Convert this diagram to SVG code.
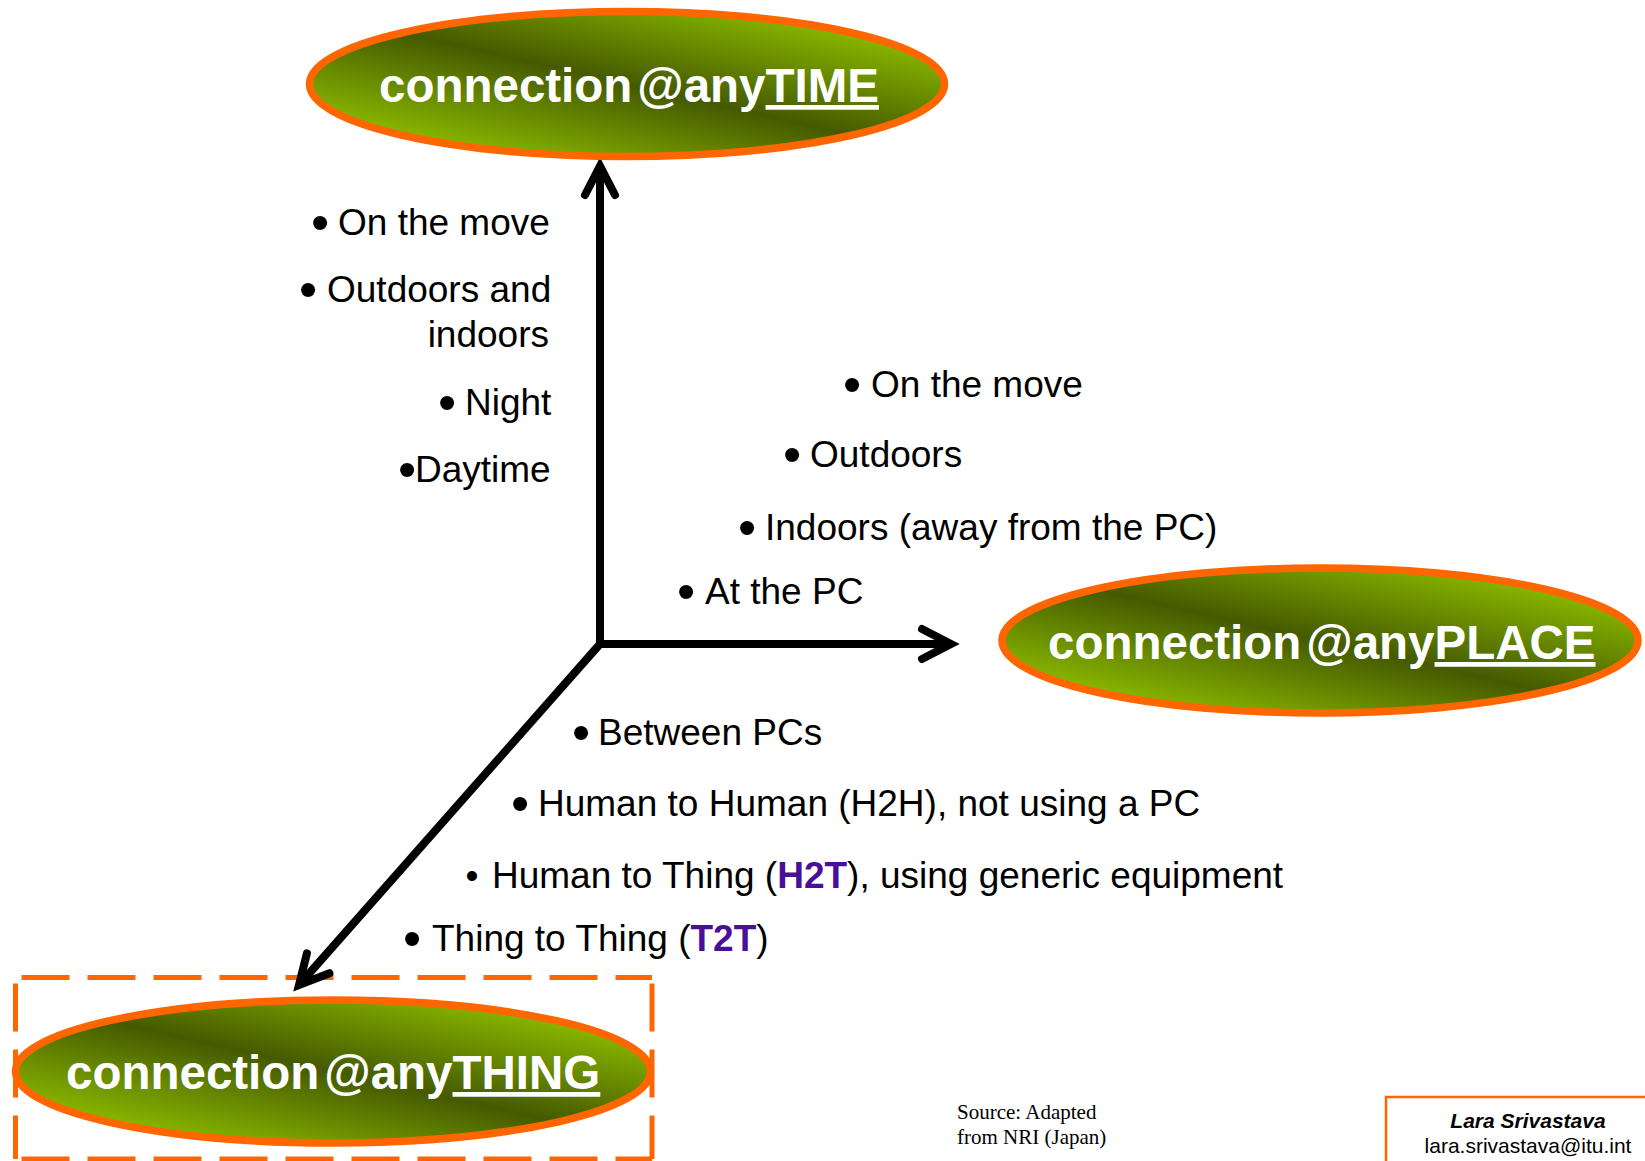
<svg xmlns="http://www.w3.org/2000/svg" width="1645" height="1161" viewBox="0 0 1645 1161">
  <defs>
    <!-- olive/lime sheen used by the three "connection@any..." ovals -->
    <linearGradient id="oliveSheen" x1="0" y1="1" x2="1" y2="0">
      <stop offset="0" stop-color="#8dbd00"/>
      <stop offset="0.16" stop-color="#86b300"/>
      <stop offset="0.5" stop-color="#455a00"/>
      <stop offset="0.84" stop-color="#86b300"/>
      <stop offset="1" stop-color="#8dbd00"/>
    </linearGradient>
    <!-- open chevron arrowhead for the three axes -->
    <marker id="chevron" markerUnits="userSpaceOnUse" markerWidth="80" markerHeight="80"
            refX="0" refY="0" orient="auto" overflow="visible">
      <path d="M -29,-15 L 0,0 L -29,15" fill="none" stroke="#000" stroke-width="8"
            stroke-linecap="round" stroke-linejoin="miter" stroke-miterlimit="10"/>
    </marker>
  </defs>
  <style>
    .oval { fill: url(#oliveSheen); stroke: #ff6600; stroke-width: 7.5; }
    .title { font-family: "Liberation Sans", Arial, sans-serif; font-weight: bold; font-size: 47.5px; fill: #ffffff; }
    .uline { text-decoration: underline; }
    .axis { fill: none; stroke: #000; stroke-width: 8; stroke-linecap: butt; marker-end: url(#chevron); }
    .item { font-family: "Liberation Sans", Arial, sans-serif; font-size: 37px; fill: #000; }
    .b { font-size: 52px; }
    .hl { font-weight: bold; fill: #4a0f99; }
    .dash { fill: none; stroke: #ff6600; stroke-width: 5; stroke-dasharray: 48 18; stroke-dashoffset: 60; }
    .src { font-family: "Liberation Serif", "Times New Roman", serif; font-size: 21px; fill: #000; }
    .sig { font-family: "Liberation Sans", Arial, sans-serif; font-size: 21px; fill: #000; text-anchor: middle; }
  </style>

  <rect width="1645" height="1161" fill="#ffffff"/>

  <!-- dashed highlight frame around the THING oval -->
  <g id="highlight-frame">
    <line class="dash" x1="15.5" y1="977.5" x2="652" y2="977.5"/>
    <line class="dash" x1="15.5" y1="977.5" x2="15.5" y2="1159"/>
    <line class="dash" x1="15.5" y1="1159" x2="652" y2="1159"/>
    <line class="dash" x1="652" y1="977.5" x2="652" y2="1159"/>
  </g>

  <!-- axes -->
  <g id="connectors">
    <line class="axis" x1="600" y1="648" x2="600" y2="166"/>
    <line class="axis" x1="596" y1="644" x2="951" y2="644"/>
    <line class="axis" x1="600" y1="644" x2="299" y2="985"/>
  </g>

  <g id="node-time">
    <ellipse class="oval" cx="627" cy="84" rx="317.5" ry="72.5"/>
    <text class="title" x="379" y="102">connection<tspan dx="5">@any</tspan><tspan class="uline">TIME</tspan></text>
  </g>

  <g id="node-place">
    <ellipse class="oval" cx="1320" cy="640.5" rx="318" ry="72.5"/>
    <text class="title" x="1048" y="659">connection<tspan dx="5">@any</tspan><tspan class="uline">PLACE</tspan></text>
  </g>

  <g id="node-thing">
    <ellipse class="oval" cx="333" cy="1071.5" rx="317.5" ry="71.5"/>
    <text class="title" x="66" y="1089">connection<tspan dx="5">@any</tspan><tspan class="uline">THING</tspan></text>
  </g>

  <!-- time axis notes -->
  <g id="time-notes">
    <text class="item"><tspan class="b" x="311" y="240">•</tspan><tspan x="338" y="235">On the move</tspan></text>
    <text class="item"><tspan class="b" x="299" y="307">•</tspan><tspan x="327" y="302">Outdoors and</tspan></text>
    <text class="item" x="549" y="347" text-anchor="end">indoors</text>
    <text class="item"><tspan class="b" x="438" y="420">•</tspan><tspan x="465" y="415">Night</tspan></text>
    <text class="item"><tspan class="b" x="398" y="487">•</tspan><tspan x="415" y="482">Daytime</tspan></text>
  </g>

  <!-- place axis notes -->
  <g id="place-notes">
    <text class="item"><tspan class="b" x="843" y="402">•</tspan><tspan x="871" y="397">On the move</tspan></text>
    <text class="item"><tspan class="b" x="783" y="472">•</tspan><tspan x="810" y="467">Outdoors</tspan></text>
    <text class="item"><tspan class="b" x="738" y="545">•</tspan><tspan x="765" y="540">Indoors (away from the PC)</tspan></text>
    <text class="item"><tspan class="b" x="677" y="609">•</tspan><tspan x="705" y="604">At the PC</tspan></text>
  </g>

  <!-- thing axis notes -->
  <g id="thing-notes">
    <text class="item"><tspan class="b" x="572" y="750">•</tspan><tspan x="598" y="745">Between PCs</tspan></text>
    <text class="item"><tspan class="b" x="511" y="821">•</tspan><tspan x="538" y="816">Human to Human (H2H), not using a PC</tspan></text>
    <text class="item" y="888"><tspan x="465.5">•</tspan><tspan x="492">Human to Thing (</tspan><tspan class="hl">H2T</tspan><tspan>), using generic equipment</tspan></text>
    <text class="item"><tspan class="b" x="403" y="956">•</tspan><tspan x="432" y="951">Thing to Thing (</tspan><tspan class="hl">T2T</tspan><tspan>)</tspan></text>
  </g>

  <!-- source credit -->
  <g id="source">
    <text class="src" x="957" y="1119">Source: Adapted</text>
    <text class="src" x="957" y="1144">from NRI (Japan)</text>
  </g>

  <!-- author box -->
  <g id="author">
    <rect x="1386" y="1097" width="300" height="100" fill="#ffffff" stroke="#ff6600" stroke-width="2.5"/>
    <text class="sig" x="1528" y="1128" font-weight="bold" font-style="italic">Lara Srivastava</text>
    <text class="sig" x="1528" y="1153">lara.srivastava@itu.int</text>
  </g>
</svg>
